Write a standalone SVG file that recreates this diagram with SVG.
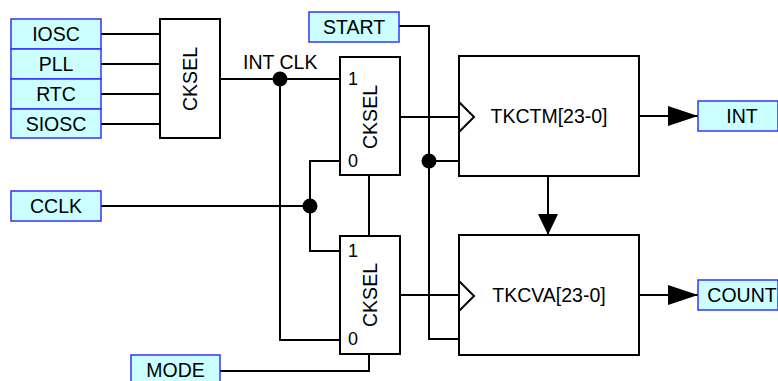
<svg xmlns="http://www.w3.org/2000/svg" width="778" height="381" viewBox="0 0 778 381">
<style>
.io{fill:#ccffff;stroke:#3333ff;stroke-width:1.5}
.blk{fill:#fff;stroke:#000;stroke-width:2}
.w{fill:none;stroke:#000;stroke-width:2}
.t{font-family:"Liberation Sans",Arial,sans-serif;font-size:19.5px;fill:#000}
.c{text-anchor:middle;dominant-baseline:central}
.dot{fill:#000}
</style>
<defs>
<marker id="ah" viewBox="0 0 30 20" refX="30" refY="10" markerWidth="30" markerHeight="20" markerUnits="userSpaceOnUse" orient="auto"><path d="M0,0 L30,10 L0,20 Z" fill="#000"/></marker>
<marker id="ahv" viewBox="0 0 21 20" refX="21" refY="10" markerWidth="21" markerHeight="20" markerUnits="userSpaceOnUse" orient="auto"><path d="M0,0 L21,10 L0,20 Z" fill="#000"/></marker>
</defs>
<g id="connectors">
<path class="w" d="M101,34H160M101,64H160M101,94H160M101,124H160"/>
<path class="w" d="M220,79H340"/>
<path class="w" d="M280,79V340H340"/>
<path class="w" d="M101,206H310"/>
<path class="w" d="M340,161H310V251H340"/>
<path class="w" d="M369,175V236"/>
<path class="w" d="M220,371H369V354"/>
<path class="w" d="M400,117H459"/>
<path class="w" d="M400,295H459"/>
<path class="w" d="M399,26H429V339H459"/>
<path class="w" d="M429,161H459"/>
<path class="w" d="M639,116H698" marker-end="url(#ah)"/>
<path class="w" d="M639,295H698" marker-end="url(#ah)"/>
<path class="w" d="M548,176V235" marker-end="url(#ahv)"/>
<circle class="dot" cx="280" cy="79" r="7.5"/>
<circle class="dot" cx="310" cy="206" r="7.5"/>
<circle class="dot" cx="429" cy="161" r="7.5"/>
</g>
<g id="IOSC"><rect class="io" x="11" y="19" width="90" height="30"/><text class="t c" x="56" y="34">IOSC</text></g>
<g id="PLL"><rect class="io" x="11" y="49" width="90" height="30"/><text class="t c" x="56" y="64">PLL</text></g>
<g id="RTC"><rect class="io" x="11" y="79" width="90" height="30"/><text class="t c" x="56" y="94">RTC</text></g>
<g id="SIOSC"><rect class="io" x="11" y="109" width="90" height="29"/><text class="t c" x="56" y="124">SIOSC</text></g>
<g id="CKSEL0"><rect class="blk" x="160" y="19" width="60" height="119"/><text class="t c" transform="translate(190,79) rotate(-90)">CKSEL</text></g>
<g id="intclk-label"><text class="t" x="243" y="69">INT CLK</text></g>
<g id="START"><rect class="io" x="309" y="12" width="90" height="30"/><text class="t c" x="354" y="27">START</text></g>
<g id="MUX1"><rect class="blk" x="340" y="57" width="60" height="118"/><text class="t c" transform="translate(370,117) rotate(-90)">CKSEL</text><text class="t c" x="353" y="79" style="font-size:18px">1</text><text class="t c" x="353" y="161" style="font-size:18px">0</text></g>
<g id="MUX2"><rect class="blk" x="340" y="236" width="60" height="118"/><text class="t c" transform="translate(370,295) rotate(-90)">CKSEL</text><text class="t c" x="353" y="251" style="font-size:18px">1</text><text class="t c" x="353" y="339" style="font-size:18px">0</text></g>
<g id="CCLK"><rect class="io" x="11" y="191" width="90" height="30"/><text class="t c" x="56" y="206">CCLK</text></g>
<g id="MODE"><rect class="io" x="131" y="355" width="89" height="30"/><text class="t c" x="175.5" y="370">MODE</text></g>
<g id="TKCTM"><rect class="blk" x="459" y="56" width="180" height="120"/><path class="w" d="M459,102L474,117L459,132"/><text class="t c" x="549" y="116">TKCTM[23-0]</text></g>
<g id="TKCVA"><rect class="blk" x="459" y="235" width="180" height="120"/><path class="w" d="M459,281L474,296L459,311"/><text class="t c" x="549" y="295">TKCVA[23-0]</text></g>
<g id="INT"><rect class="io" x="698" y="101" width="80" height="30"/><text class="t c" x="742" y="116">INT</text></g>
<g id="COUNT"><rect class="io" x="698" y="280" width="80" height="30"/><text class="t c" x="742" y="295">COUNT</text></g>
</svg>
